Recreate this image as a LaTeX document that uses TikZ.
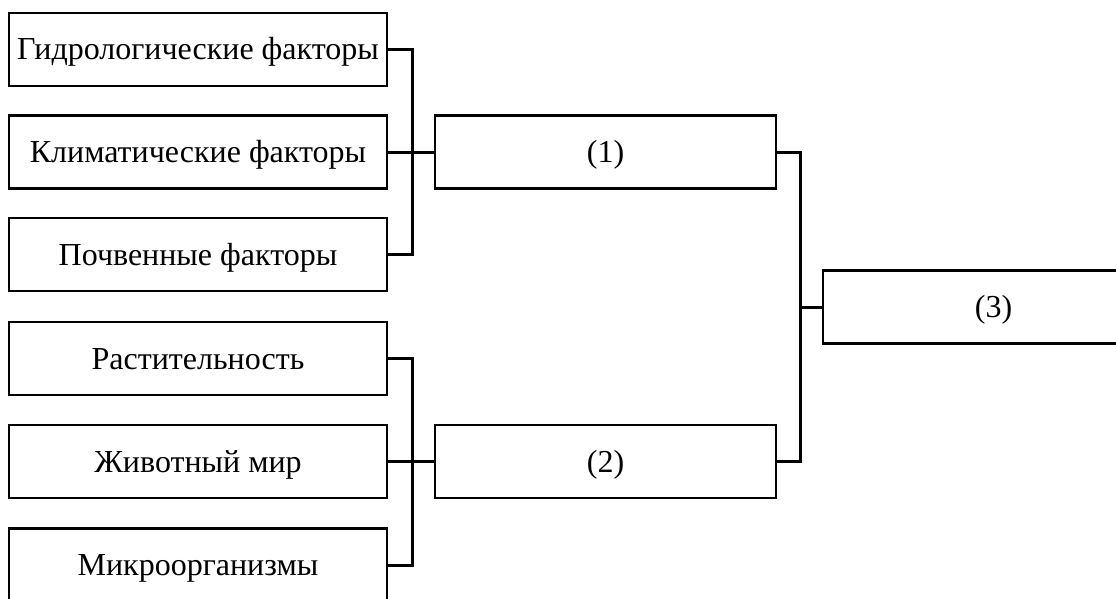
\documentclass[tikz,border=0pt]{standalone}
\usepackage{fontspec}
\setmainfont{Liberation Serif}
\begin{document}
\begin{tikzpicture}[x=1pt,y=-1pt,
  box/.style={draw,line width=2.8pt,minimum height=73pt,inner sep=0pt,text height=24pt,text depth=3pt,font=\fontsize{32}{38}\selectfont},
  lbox/.style={box,minimum width=378pt},
  mbox/.style={box,minimum width=341pt},
  conn/.style={line width=3pt}]
\useasboundingbox (0,0) rectangle (1116,599);
\node[lbox] (h) at (198,49.5) {Гидрологические факторы};
\node[lbox] (k) at (198,152) {Климатические факторы};
\node[lbox] (p) at (198,254.5) {Почвенные факторы};
\node[lbox] (r) at (198,358.5) {Растительность};
\node[lbox] (z) at (198,461.5) {Животный мир};
\node[lbox] (m) at (198,565) {Микроорганизмы};
\node[mbox] (n1) at (605.5,152) {(1)};
\node[mbox] (n2) at (605.5,461.5) {(2)};
\node[mbox] (n3) at (993.5,307) {(3)};
\coordinate (b1) at (412,152);
\coordinate (b2) at (412,461.5);
\coordinate (b3) at (800,307);
\draw[conn] (h.east) -| (b1) |- (p.east);
\draw[conn] (k.east) -- (n1.west);
\draw[conn] (r.east) -| (b2) |- (m.east);
\draw[conn] (z.east) -- (n2.west);
\draw[conn] (n1.east) -| (b3) |- (n2.east);
\draw[conn] (b3) -- (n3.west);
\end{tikzpicture}
\end{document}
